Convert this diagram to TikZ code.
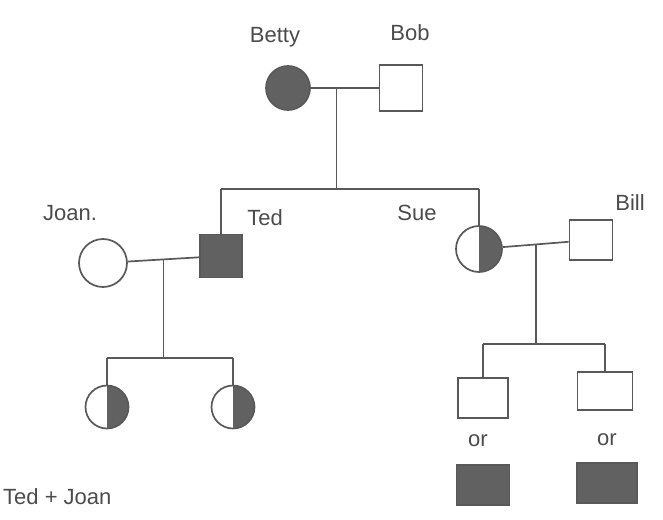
\documentclass[tikz,border=0pt]{standalone}
\usepackage{fontspec}
\setmainfont{Liberation Sans}
\usetikzlibrary{calc}
\begin{document}
\begin{tikzpicture}[x=1pt,y=-1pt,
  line/.style={draw=black!65, line width=1.7pt},
  male/.style={rectangle, draw=black!65, line width=1.7pt, inner sep=0pt},
  female/.style={circle, draw=black!65, line width=1.7pt, inner sep=0pt},
  aff/.style={fill=black!62},
  carrier/.style={path picture={\fill[black!62] (path picture bounding box.north) rectangle (path picture bounding box.south east);}},
  lbl/.style={font=\fontsize{22}{22}\selectfont, text=black!70, inner sep=0pt}]
\fill[white] (0,0) rectangle (663,519);
\useasboundingbox (0,0) rectangle (663,519);
% generation I
\node[female, aff, minimum size=44pt] (betty) at (288,88) {};
\node[male, minimum width=43pt, minimum height=46pt] (bob) at (401,88) {};
\node[lbl] (lbetty) at (275,37) {Betty};
\node[lbl] (lbob) at (410,33) {Bob};
% generation II
\node[female, minimum size=48pt] (joan) at (103,263) {};
\node[male, aff, minimum width=42pt, minimum height=43pt] (ted) at (221,256) {};
\node[female, carrier, minimum size=46pt] (sue) at (479,249) {};
\node[male, minimum width=43pt, minimum height=40pt] (bill) at (591,240) {};
\node[lbl] (ljoan) at (70,213) {Joan.};
\node[lbl] (lted) at (265,218) {Ted};
\node[lbl] (lsue) at (417,213) {Sue};
\node[lbl] (lbill) at (630,203) {Bill};
% generation III
\node[female, carrier, minimum size=43pt] (d1) at (107,407) {};
\node[female, carrier, minimum size=43pt] (d2) at (233,407) {};
\node[male, minimum width=50pt, minimum height=40pt] (s1) at (483,398) {};
\node[male, minimum width=55pt, minimum height=38pt] (s2) at (605,391) {};
\node[lbl] (or1) at (478,441) {or};
\node[lbl] (or2) at (607,440) {or};
\node[male, aff, minimum width=53pt, minimum height=40pt] (s1a) at (483,485) {};
\node[male, aff, minimum width=60pt, minimum height=40pt] (s2a) at (607,483) {};
\node[lbl, anchor=west] (ltj) at (3,497) {Ted + Joan};
% connectors
\draw[line] (betty) -- (bob);
\coordinate (m1) at ($(betty.east)!0.38!(bob.west)$);
\coordinate (sib) at (0,189);
\draw[line] (m1) -- (m1 |- sib);
\draw[line] (ted.north |- sib) -- (sue.north |- sib);
\draw[line] (ted.north |- sib) -- (ted.north);
\draw[line] (sue.north |- sib) -- (sue.north);
\draw[line] (joan) -- (ted);
\coordinate (m2) at ($(joan.east)!0.5!(ted.west)$);
\coordinate (sib2) at (0,358);
\draw[line] (m2) -- (m2 |- sib2);
\draw[line] (d1.north |- sib2) -- (d2.north |- sib2);
\draw[line] (d1.north |- sib2) -- (d1.north);
\draw[line] (d2.north |- sib2) -- (d2.north);
\draw[line] (sue) -- (bill);
\coordinate (m3) at ($(sue.east)!0.5!(bill.west)$);
\coordinate (sib3) at (0,344);
\draw[line] (m3) -- (m3 |- sib3);
\draw[line] (s1.north |- sib3) -- (s2.north |- sib3);
\draw[line] (s1.north |- sib3) -- (s1.north);
\draw[line] (s2.north |- sib3) -- (s2.north);
\end{tikzpicture}
\end{document}
